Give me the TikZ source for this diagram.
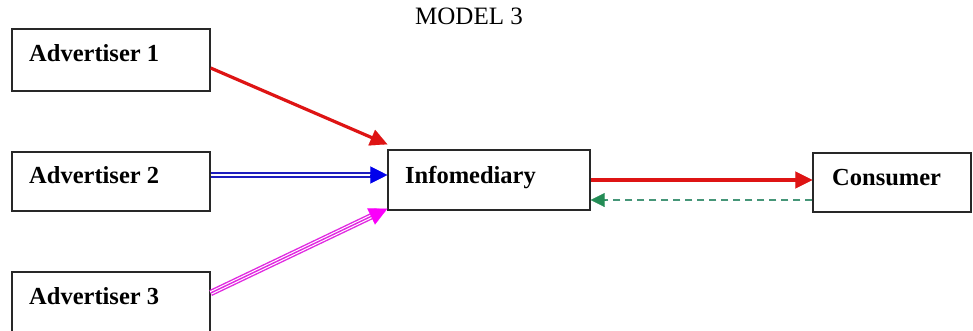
\documentclass[tikz,border=0pt]{standalone}
\usepackage{fontspec}
\setmainfont{Liberation Serif}
\usetikzlibrary{arrows.meta,calc}
\definecolor{arrred}{RGB}{222,20,20}
\definecolor{arrblue}{RGB}{30,30,190}
\definecolor{headblue}{RGB}{0,0,235}
\definecolor{arrmag}{RGB}{225,40,225}
\definecolor{headmag}{RGB}{250,0,250}
\definecolor{arrgreen}{RGB}{70,150,120}
\definecolor{headgreen}{RGB}{35,140,85}
\definecolor{boxline}{RGB}{40,40,40}
\begin{document}
\begin{tikzpicture}[x=1pt,y=-1pt,
  box/.style={draw=boxline, line width=1.3pt, minimum width=#1, inner sep=0pt, rectangle},
  lbl/.style={anchor=base west, inner sep=0pt, font=\fontsize{24.5}{28}\selectfont\bfseries},
  tip/.style={-{Triangle[length=#1,width=#1]}, line width=0.1pt}
]
\useasboundingbox (0,0) rectangle (973,331);
\fill[white] (0,0) rectangle (973,331);
\clip (0,0) rectangle (973,331);

\node[anchor=base west, inner sep=0pt, font=\fontsize{25}{28}\selectfont] (title) at (415,25) {MODEL 3};

\node[box=198pt, minimum height=62pt] (a1) at (111,60) {};
\node[box=198pt, minimum height=59pt] (a2) at (111,181.5) {};
\node[box=198pt, minimum height=61pt] (a3) at (111,302.5) {};
\node[box=202pt, minimum height=60pt] (info) at (489,180) {};
\node[box=158pt, minimum height=59pt] (cons) at (892,182.5) {};

\node[lbl] (t1) at (29,62) {Advertiser 1};
\node[lbl] (t2) at (29,183) {Advertiser 2};
\node[lbl] (t3) at (29,304) {Advertiser 3};
\node[lbl] (ti) at (405,183) {Infomediary};
\node[lbl] (tc) at (832,185) {Consumer};

% Advertiser 1 -> Infomediary (red)
\coordinate (r1s) at ([yshift=-8pt]a1.east);
\coordinate (r1e) at ([yshift=5pt]info.north west);
\draw[arrred, line width=3.2pt, shorten >=14pt] (r1s) -- (r1e);
\draw[tip=17pt, arrred, fill=arrred] ($(r1e)!17pt!(r1s)$) -- (r1e);

% Advertiser 2 -> Infomediary (blue double)
\coordinate (bs) at ([yshift=6.5pt]a2.east);
\coordinate (be) at ([yshift=5pt]info.west);
\draw[arrblue, line width=1.6pt, double=white, double distance=2pt, shorten >=15pt] (bs) -- (be);
\draw[tip=17pt, headblue, fill=headblue] ($(be)!17pt!(bs)$) -- (be);

% Advertiser 3 -> Infomediary (magenta triple)
\coordinate (ms) at ([yshift=9.5pt]a3.east);
\coordinate (me) at ([yshift=2pt]info.south west);
\draw[arrmag, line width=1.4pt, double=white, double distance=3.6pt, shorten >=15pt] (ms) -- (me);
\draw[arrmag, line width=1.4pt, shorten >=15pt] (ms) -- (me);
\draw[tip=18pt, headmag, fill=headmag] ($(me)!18pt!(ms)$) -- (me);

% Infomediary -> Consumer (red)
\coordinate (cs) at (info.east);
\coordinate (ce) at (info.east -| cons.west);
\draw[arrred, line width=3.2pt, shorten >=14pt] (cs) -- (ce);
\draw[tip=17pt, arrred, fill=arrred] ($(ce)!17pt!(cs)$) -- (ce);

% Consumer -> Infomediary (green dashed)
\coordinate (gs) at ([yshift=-20pt]info.east -| cons.west);
\coordinate (ge) at ([yshift=-20pt]info.east);
\draw[arrgreen, line width=1.6pt, dash pattern=on 7pt off 5pt, shorten >=12pt] (gs) -- (ge);
\draw[tip=14pt, headgreen, fill=headgreen] ($(ge)!14pt!(gs)$) -- (ge);
\end{tikzpicture}
\end{document}
